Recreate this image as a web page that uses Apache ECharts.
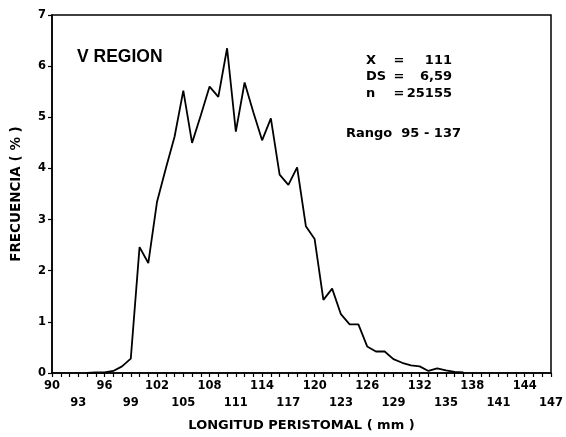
<!DOCTYPE html>
<html lang="es">
<head>
  <meta charset="UTF-8">
  <title>V REGION - frecuencia longitud peristomal</title>
  <style>
    html, body { margin: 0; padding: 0; background: #fff; }
    #main { width: 566px; height: 437px; }
  </style>
</head>
<body>
  <div id="main"></div>
  <script src="https://cdn.jsdelivr.net/npm/echarts@6/dist/echarts.min.js"></script>
  <script type="text/javascript">
    // longitud peristomal (mm) y frecuencia (%)
    var longitud = [94, 95, 96, 97, 98, 99, 100, 101, 102, 103, 104, 105, 106, 107, 108, 109, 110,
      111, 112, 113, 114, 115, 116, 117, 118, 119, 120, 121, 122, 123, 124, 125, 126, 127, 128,
      129, 130, 131, 132, 133, 134, 135, 136, 137];
    var frecuencia = [0, 0.01, 0.01, 0.04, 0.13, 0.28, 2.46, 2.15, 3.35, 4.0, 4.62, 5.52, 4.5, 5.04, 5.6,
      5.4, 6.35, 4.72, 5.68, 5.1, 4.55, 4.98, 3.88, 3.68, 4.02, 2.87, 2.62, 1.43, 1.65, 1.15, 0.95,
      0.95, 0.52, 0.42, 0.42, 0.27, 0.2, 0.15, 0.13, 0.04, 0.09, 0.05, 0.02, 0.01];
    var stats = [['X', '=', '111'], ['DS', '=', '6,59'], ['n', '=', '25155']];
    var rango = 'Rango  95 - 137';

    var black = '#000';
    var tickFont = 'DejaVu Sans';

    var data = longitud.map(function (v, i) { return [v, frecuencia[i]]; });

    var graphics = [{
      type: 'text', left: 77, top: 48,
      style: { text: 'V REGION', font: 'bold 17.5px "Liberation Sans"', fill: black }
    }];
    stats.forEach(function (row, i) {
      var y = 54 + i * 16.5;
      graphics.push({ type: 'text', x: 366, y: y, style: { text: row[0], font: 'bold 13px "DejaVu Sans"', fill: black } });
      graphics.push({ type: 'text', x: 399, y: y, style: { text: row[1], font: 'bold 13px "DejaVu Sans"', fill: black, align: 'center' } });
      graphics.push({ type: 'text', x: 452, y: y, style: { text: row[2], font: 'bold 13px "DejaVu Sans"', fill: black, align: 'right' } });
    });
    graphics.push({ type: 'text', x: 346, y: 127, style: { text: rango, font: 'bold 13px "DejaVu Sans"', fill: black } });

    var option = {
      animation: false,
      backgroundColor: '#fff',
      grid: {
        left: 52, right: 14, top: 15, bottom: 63,
        show: true, borderColor: black, borderWidth: 1.5
      },
      xAxis: {
        type: 'value', min: 90, max: 147, interval: 1,
        name: 'LONGITUD PERISTOMAL ( mm )',
        nameLocation: 'middle', nameGap: 46,
        nameTextStyle: { color: black, fontFamily: tickFont, fontWeight: 'bold', fontSize: 13 },
        splitLine: { show: false },
        axisLine: { onZero: false, lineStyle: { color: black, width: 1.5 } },
        axisTick: { length: 4, lineStyle: { color: black, width: 1.2 } },
        axisLabel: {
          color: black, fontFamily: tickFont, fontWeight: 'bold', fontSize: 11.5,
          lineHeight: 17, margin: 5, showMinLabel: true, showMaxLabel: true,
          formatter: function (v) {
            if (v % 6 === 0) return String(v);
            if (v % 6 === 3) return '\n' + v;
            return '';
          }
        }
      },
      yAxis: {
        type: 'value', min: 0, max: 7, interval: 1,
        name: 'FRECUENCIA ( % )',
        nameLocation: 'middle', nameGap: 29,
        nameTextStyle: { color: black, fontFamily: tickFont, fontWeight: 'bold', fontSize: 13.5 },
        splitLine: { show: false },
        axisLine: { show: true, lineStyle: { color: black, width: 1.5 } },
        axisTick: { show: true, length: 4, lineStyle: { color: black, width: 1.2 } },
        axisLabel: { color: black, fontFamily: tickFont, fontWeight: 'bold', fontSize: 11.5, margin: 6 }
      },
      series: [{
        type: 'line',
        data: data,
        showSymbol: false,
        symbol: 'none',
        lineStyle: { color: black, width: 1.8 }
      }],
      graphic: graphics
    };

    var myChart = echarts.init(document.getElementById('main'));
    myChart.setOption(option);
  </script>
</body>
</html>
